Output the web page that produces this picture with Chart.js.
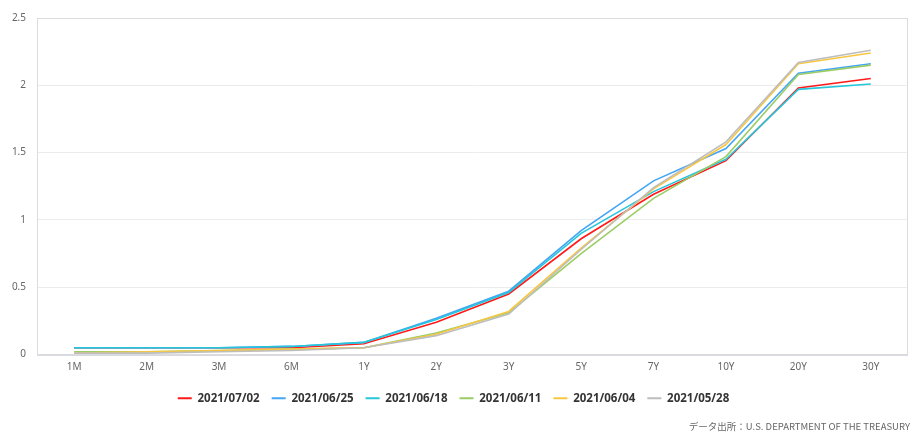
<!DOCTYPE html>
<html>
<head>
    <meta charset="utf-8">
    <title>米国債利回りカーブ</title>
    <style>
        body { margin: 0; background: #fff; }
        .wrap { position: relative; width: 919px; height: 442px; }
        .source {
            position: absolute;
            right: 9px;
            bottom: 9px;
            font-family: "Noto Sans CJK JP", "Noto Sans", sans-serif;
            font-size: 9.5px;
            color: #666;
        }
    </style>
    <script src="https://cdn.jsdelivr.net/npm/chart.js"></script>
</head>
<body>
<div class="wrap">
    <canvas id="myChart" width="919" height="442"></canvas>
    <div class="source">データ出所：U.S. DEPARTMENT OF THE TREASURY</div>
</div>
<script>
    // 年限
    var labels = ['1M', '2M', '3M', '6M', '1Y', '2Y', '3Y', '5Y', '7Y', '10Y', '20Y', '30Y'];

    // 利回り (%)
    var d0702 = [0.05, 0.05, 0.05, 0.05, 0.08, 0.24, 0.45, 0.86, 1.19, 1.44, 1.98, 2.05];
    var d0625 = [0.05, 0.05, 0.05, 0.06, 0.09, 0.27, 0.47, 0.92, 1.29, 1.53, 2.09, 2.16];
    var d0618 = [0.05, 0.05, 0.05, 0.06, 0.09, 0.26, 0.46, 0.90, 1.21, 1.45, 1.97, 2.01];
    var d0611 = [0.02, 0.02, 0.03, 0.04, 0.05, 0.16, 0.31, 0.75, 1.16, 1.47, 2.08, 2.15];
    var d0604 = [0.01, 0.02, 0.03, 0.04, 0.05, 0.15, 0.32, 0.79, 1.23, 1.56, 2.16, 2.24];
    var d0528 = [0.01, 0.01, 0.02, 0.03, 0.05, 0.14, 0.30, 0.78, 1.24, 1.58, 2.17, 2.26];

    var names = ['2021/07/02', '2021/06/25', '2021/06/18', '2021/06/11', '2021/06/04', '2021/05/28'];
    var series = [d0702, d0625, d0618, d0611, d0604, d0528];
    var colors = ['#ff1a1a', '#42a5f5', '#26c6da', '#9ccc65', '#f7c744', '#bdbdbd'];

    var datasets = series.map(function (s, i) {
        return {
            label: names[i],
            data: s,
            borderColor: colors[i],
            backgroundColor: colors[i],
            borderWidth: 1.6,
            pointRadius: 0,
            pointHoverRadius: 3,
            tension: 0,
            order: series.length - i
        };
    });

    // 枠線
    var frame = {
        id: 'frame',
        beforeDatasetsDraw: function (chart) {
            var a = chart.chartArea, c = chart.ctx;
            c.save();
            c.strokeStyle = '#dcdcdc';
            c.lineWidth = 1;
            c.strokeRect(a.left - 0.5, a.top + 0.5, a.right - a.left + 1, a.bottom - a.top);
            c.restore();
        }
    };

    var ctx = document.getElementById('myChart').getContext('2d');
    var myChart = new Chart(ctx, {
        type: 'line',
        data: { labels: labels, datasets: datasets },
        plugins: [frame],
        options: {
            responsive: false,
            animation: false,
            layout: { padding: { top: 17, right: 12, bottom: 28, left: 0 } },
            plugins: {
                legend: {
                    position: 'bottom',
                    labels: {
                        boxWidth: 14,
                        boxHeight: 2,
                        padding: 12,
                        color: '#333',
                        font: { family: '"Noto Sans", sans-serif', size: 11.5, weight: 'bold' },
                        sort: function (a, b) { return a.datasetIndex - b.datasetIndex; },
                        generateLabels: function (chart) {
                            var items = Chart.defaults.plugins.legend.labels.generateLabels(chart);
                            items.forEach(function (it) { it.lineWidth = 0; it.fillStyle = it.strokeStyle; });
                            return items;
                        }
                    }
                },
                tooltip: { mode: 'index', intersect: false }
            },
            scales: {
                x: {
                    offset: true,
                    grid: { display: false, drawTicks: false },
                    border: { color: '#d5d9e2', width: 2 },
                    ticks: {
                        padding: 7,
                        color: '#666',
                        font: { family: '"Noto Sans", sans-serif', size: 10 }
                    }
                },
                y: {
                    min: 0,
                    max: 2.5,
                    afterFit: function (scale) { scale.width = 38; },
                    grid: { color: '#ececec', drawTicks: false },
                    border: { display: false },
                    ticks: {
                        stepSize: 0.5,
                        padding: 12,
                        color: '#666',
                        font: { family: '"Noto Sans", sans-serif', size: 10 },
                        callback: function (v) { return String(v); }
                    }
                }
            }
        }
    });
</script>
</body>
</html>
